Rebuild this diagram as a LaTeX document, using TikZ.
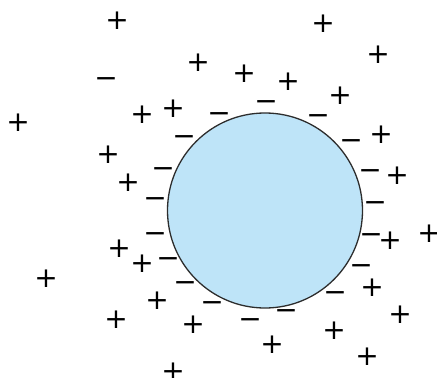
\documentclass[tikz,border=0pt]{standalone}
\usepackage{fontspec}
\usepackage{xcolor}
\newfontfamily\signfont{DejaVu Sans}
\definecolor{spherefill}{RGB}{190,228,248}
\definecolor{sphereline}{RGB}{45,45,45}

\begin{document}
\begin{tikzpicture}[x=1pt, y=-1pt,
  chargeplus/.style={inner sep=0pt, text height=1.4em, text depth=0pt, font=\signfont\fontsize{28}{28}\selectfont},
  chargeminus/.style={inner sep=0pt, text height=1.4em, text depth=0pt, font=\signfont\fontsize{28}{28}\selectfont}]

\useasboundingbox (0,0) rectangle (437,378);

% the sphere
\node[circle, draw=sphereline, line width=1.3pt, fill=spherefill, minimum size=195pt, inner sep=0pt] (sphere) at (265,210.5) {};

% negative charges around the surface
\node[chargeminus] (m1) at (106,80) {−};
\node[chargeminus] (m2) at (219,115) {−};
\node[chargeminus] (m3) at (184,138) {−};
\node[chargeminus] (m4) at (163,170) {−};
\node[chargeminus] (m5) at (266,103) {−};
\node[chargeminus] (m6) at (318,117) {−};
\node[chargeminus] (m7) at (351,142) {−};
\node[chargeminus] (m8) at (370,172) {−};
\node[chargeminus] (m9) at (155,200) {−};
\node[chargeminus] (m10) at (155,235) {−};
\node[chargeminus] (m11) at (168,260) {−};
\node[chargeminus] (m12) at (185,284) {−};
\node[chargeminus] (m13) at (212,304) {−};
\node[chargeminus] (m14) at (375,204) {−};
\node[chargeminus] (m15) at (371,236) {−};
\node[chargeminus] (m16) at (361,267) {−};
\node[chargeminus] (m17) at (335,294) {−};
\node[chargeminus] (m18) at (286,312) {−};
\node[chargeminus] (m19) at (250,321) {−};

% positive charges
\node[chargeplus] (p1) at (117,22) {+};
\node[chargeplus] (p2) at (198,64) {+};
\node[chargeplus] (p3) at (18,124) {+};
\node[chargeplus] (p4) at (142,116) {+};
\node[chargeplus] (p5) at (173,110) {+};
\node[chargeplus] (p6) at (108,156) {+};
\node[chargeplus] (p7) at (128,184) {+};
\node[chargeplus] (p8) at (323,25) {+};
\node[chargeplus] (p9) at (378,56) {+};
\node[chargeplus] (p10) at (244,75) {+};
\node[chargeplus] (p11) at (288,83) {+};
\node[chargeplus] (p12) at (340,97) {+};
\node[chargeplus] (p13) at (381,136) {+};
\node[chargeplus] (p14) at (397,177) {+};
\node[chargeplus] (p15) at (119,250) {+};
\node[chargeplus] (p16) at (142,265) {+};
\node[chargeplus] (p17) at (46,280) {+};
\node[chargeplus] (p18) at (157,302) {+};
\node[chargeplus] (p19) at (116,321) {+};
\node[chargeplus] (p20) at (193,326) {+};
\node[chargeplus] (p21) at (173,373) {+};
\node[chargeplus] (p22) at (390,242) {+};
\node[chargeplus] (p23) at (429,235) {+};
\node[chargeplus] (p24) at (372,289) {+};
\node[chargeplus] (p25) at (400,316) {+};
\node[chargeplus] (p26) at (334,332) {+};
\node[chargeplus] (p27) at (272,346) {+};
\node[chargeplus] (p28) at (367,358) {+};

\end{tikzpicture}
\end{document}
